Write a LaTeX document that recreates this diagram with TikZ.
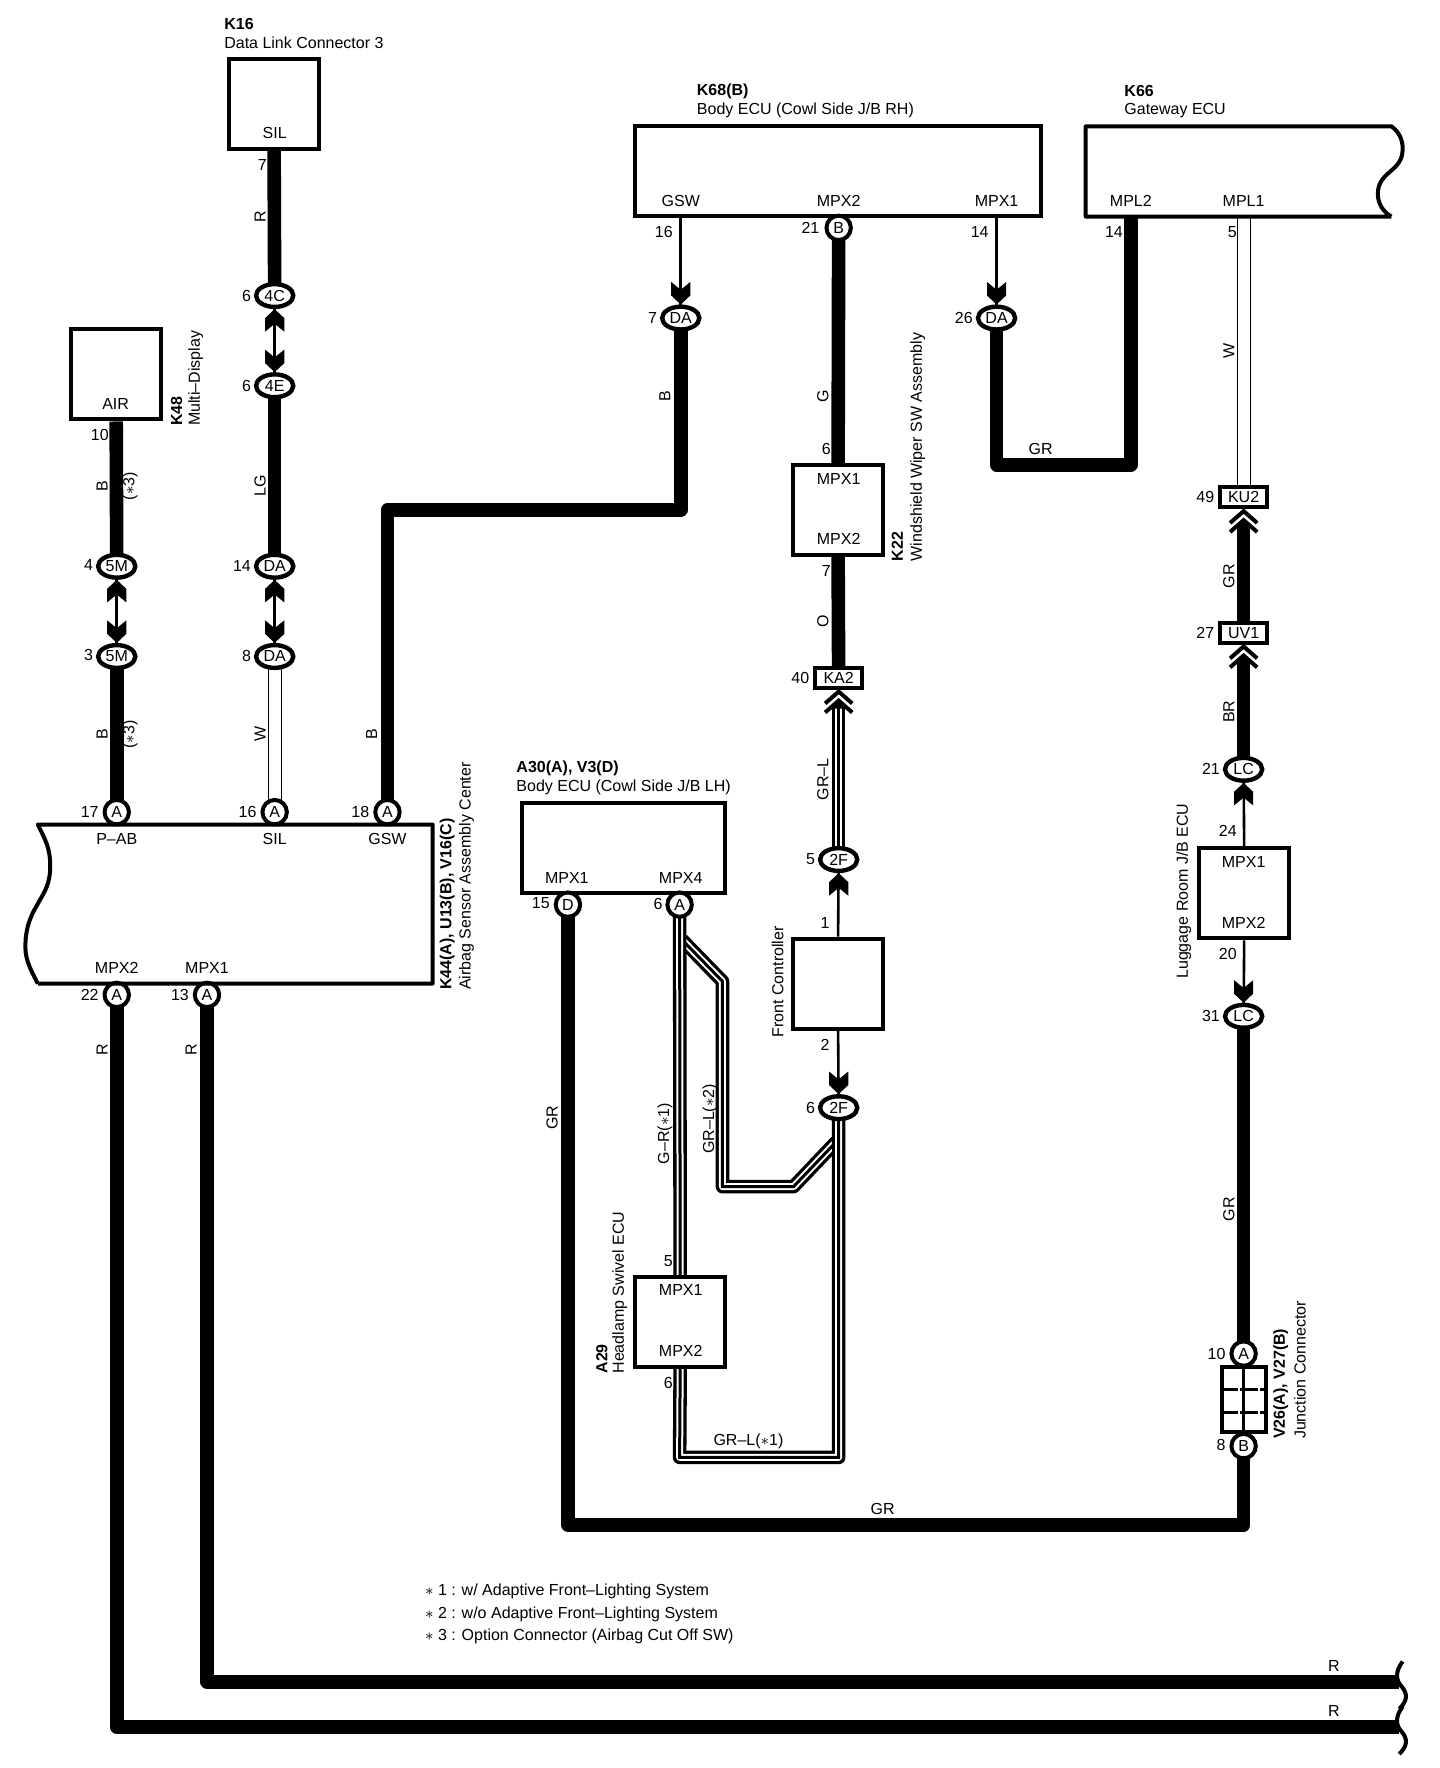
\documentclass[tikz,border=0pt]{standalone}
\usepackage{fontspec}
\setmainfont{Liberation Sans}
\usetikzlibrary{shapes.geometric,backgrounds}
\tikzset{
  lbl/.style={font=\fontsize{8}{9.5}\selectfont,inner sep=0pt,text=black},
  lblb/.style={lbl,font=\fontsize{8}{9.5}\selectfont\bfseries},
  tag/.style={lbl,anchor=west},
  tagb/.style={lblb,anchor=west},
  vtag/.style={lbl,rotate=90,anchor=west},
  vtagb/.style={lblb,rotate=90,anchor=west},
  vlbl/.style={lbl,rotate=90},
  modbox/.style={draw=black,fill=white,line width=2pt,minimum width=45pt,minimum height=45pt,inner sep=0pt},
  oval/.style={ellipse,draw=black,fill=white,line width=2.2pt,minimum width=18.6pt,minimum height=11.4pt,inner sep=0pt,font=\fontsize{8}{9.5}\selectfont},
  pinc/.style={circle,draw=black,fill=white,line width=2pt,minimum size=12.2pt,inner sep=0pt,font=\fontsize{8}{9.5}\selectfont},
  rectc/.style={rectangle,draw=black,fill=white,line width=2pt,minimum width=23.6pt,minimum height=10pt,inner sep=0pt,font=\fontsize{8}{9.5}\selectfont},
  outline/.style={draw=black,line width=2pt,line join=round},
  thickwire/.style={draw=black,line width=6.8pt,line join=round},
  thinlink/.style={draw=black,line width=1.3pt},
  whitewire/.style={draw=black,line width=.5pt,double=white,double distance=6pt},
  stripewire/.style={line width=1.5pt,draw=black,
    preaction={draw=black,line width=6.8pt,line join=round},
    preaction={draw=white,line width=3.5pt,line join=round}},
  headup/.pic={\fill[black] (0,0)--(8.5,8)--(8.5,20)--(0,13)--(-8.5,20)--(-8.5,8)--cycle;},
  headdown/.pic={\fill[black] (0,0)--(8.5,-8)--(8.5,-20)--(0,-13)--(-8.5,-20)--(-8.5,-8)--cycle;},
  chevrons/.pic={
    \fill[white] (-7.5,0) rectangle (7.5,16);
    \draw[black,line width=2pt,line cap=butt] (-12,12)--(0,1.5)--(12,12);
    \draw[black,line width=2pt,line cap=butt] (-12,20)--(0,9.5)--(12,20);
    \fill[black] (0,11)--(6.5,16.5)--(-6.5,16.5)--cycle;
  },
}
\begin{document}
\begin{tikzpicture}[x=0.564pt,y=-0.564pt]
\useasboundingbox (-0.5,0) rectangle (1276.1,1567.4);
% ---- modules
\node[modbox] (K16) at (242.5,92) {};
\node[lbl] (K16sil) at (243,118) {SIL};
\node[tagb] (K16a) at (198,21) {K16};
\node[tag] (K16b) at (198,38) {Data Link Connector 3};

\node[modbox] (K48) at (102.5,332) {};
\node[lbl] (K48air) at (102,358) {AIR};
\node[vtagb] (K48a) at (156,378) {K48};
\node[vtag] (K48b) at (173,378) {Multi--Display};

\node[modbox,minimum width=203pt] (K68) at (742.5,152) {};
\node[tagb] (K68a) at (617,81) {K68(B)};
\node[tag] (K68b) at (617,98) {Body ECU (Cowl Side J/B RH)};
\node[lbl] (K68g) at (603,178) {GSW};
\node[lbl] (K68m2) at (743,178) {MPX2};
\node[lbl] (K68m1) at (883,178) {MPX1};

\node[tagb] (K66a) at (996,81) {K66};
\node[tag] (K66b) at (996,98) {Gateway ECU};
\node[lbl] (K66l2) at (1002,178) {MPL2};
\node[lbl] (K66l1) at (1102,178) {MPL1};

\node[modbox] (K22) at (742.5,452) {};
\node[lbl] (K22a) at (743,425) {MPX1};
\node[lbl] (K22b) at (743,478) {MPX2};
\node[vtagb] (K22c) at (795,498) {K22};
\node[vtag] (K22d) at (813,498) {Windshield Wiper SW Assembly};

\node[modbox] (FC) at (742.5,872) {};
\node[vtag] (FCl) at (689,920) {Front Controller};

\node[modbox,minimum width=101.6pt] (A30) at (552.5,752) {};
\node[tagb] (A30a) at (457,681) {A30(A), V3(D)};
\node[tag] (A30b) at (457,698) {Body ECU (Cowl Side J/B LH)};
\node[lbl] (A30m1) at (502,778) {MPX1};
\node[lbl] (A30m4) at (603,778) {MPX4};

\node[modbox] (A29) at (602.5,1172) {};
\node[lbl] (A29a) at (603,1144) {MPX1};
\node[lbl] (A29b) at (603,1198) {MPX2};
\node[vtagb] (A29c) at (533,1218) {A29};
\node[vtag] (A29d) at (549,1218) {Headlamp Swivel ECU};

\node[modbox] (LJB) at (1102.5,792) {};
\node[lbl] (LJBa) at (1102,764) {MPX1};
\node[lbl] (LJBb) at (1102,818) {MPX2};
\node[vtag] (LJBc) at (1049,868) {Luggage Room J/B ECU};

% K44 label group
\node[lbl] (K44a) at (103,744) {P--AB};
\node[lbl] (K44b) at (243,744) {SIL};
\node[lbl] (K44c) at (343,744) {GSW};
\node[lbl] (K44d) at (103,858) {MPX2};
\node[lbl] (K44e) at (183,858) {MPX1};
\node[vtagb] (K44f) at (396,878) {K44(A), U13(B), V16(C)};
\node[vtag] (K44g) at (413,878) {Airbag Sensor Assembly Center};

% ---- connectors
\node[oval] (c4C) at (243,262) {4C};
\node[oval] (c4E) at (243,342) {4E};
\node[oval] (cDA14) at (243,502) {DA};
\node[oval] (cDA8) at (243,582) {DA};
\node[oval] (c5Ma) at (103,502) {5M};
\node[oval] (c5Mb) at (103,582) {5M};
\node[pinc] (a17) at (103,720) {A};
\node[pinc] (a16) at (243,720) {A};
\node[pinc] (a18) at (343,720) {A};
\node[pinc] (a22) at (103,882) {A};
\node[pinc] (a13) at (183,882) {A};
\node[oval] (cDA7) at (603,282) {DA};
\node[pinc] (b21) at (743,202) {B};
\node[oval] (cDA26) at (883,282) {DA};
\node[rectc] (KA2) at (743,601) {KA2};
\node[oval] (c2Fa) at (743,762) {2F};
\node[oval] (c2Fb) at (743,982) {2F};
\node[pinc] (d15) at (503,802) {D};
\node[pinc] (a6) at (602,802) {A};
\node[rectc] (KU2) at (1102,441) {KU2};
\node[rectc] (UV1) at (1102,561) {UV1};
\node[oval] (LCa) at (1102,682) {LC};
\node[oval] (LCb) at (1102,901) {LC};
\node[pinc] (a10) at (1102,1200) {A};
\node[pinc] (b8) at (1102,1282) {B};
\node[modbox,minimum width=22pt,minimum height=32.4pt] (V26) at (1102,1241) {};
\node[vtagb] (V26a) at (1135,1276) {V26(A), V27(B)};
\node[vtag] (V26b) at (1152,1276) {Junction Connector};

% ---- pin numbers
\node[lbl] at (232,146) (p01) {7};
\node[lbl] at (218,262) (p02) {6};
\node[lbl] at (218,342) (p03) {6};
\node[lbl] at (214,502) (p04) {14};
\node[lbl] at (218,582) (p05) {8};
\node[lbl] at (219,720) (p06) {16};
\node[lbl] at (88,386) (p07) {10};
\node[lbl] at (78,501) (p08) {4};
\node[lbl] at (78,581) (p09) {3};
\node[lbl] at (79,720) (p10) {17};
\node[lbl] at (319,720) (p11) {18};
\node[lbl] at (578,282) (p12) {7};
\node[lbl] at (588,206) (p13) {16};
\node[lbl] at (718,202) (p14) {21};
\node[lbl] at (732,398) (p15) {6};
\node[lbl] at (732,506) (p16) {7};
\node[lbl] at (709,601) (p17) {40};
\node[lbl] at (718,762) (p18) {5};
\node[lbl] at (731,818) (p19) {1};
\node[lbl] at (731,926) (p20) {2};
\node[lbl] at (718,982) (p21) {6};
\node[lbl] at (592,1118) (p22) {5};
\node[lbl] at (592,1226) (p23) {6};
\node[lbl] at (479,801) (p24) {15};
\node[lbl] at (583,801) (p25) {6};
\node[lbl] at (1078,1200) (p26) {10};
\node[lbl] at (1082,1281) (p27) {8};
\node[lbl] at (1073,901) (p28) {31};
\node[lbl] at (1088,846) (p29) {20};
\node[lbl] at (1088,737) (p30) {24};
\node[lbl] at (1073,682) (p31) {21};
\node[lbl] at (1068,561) (p32) {27};
\node[lbl] at (1068,441) (p33) {49};
\node[lbl] at (1092,206) (p34) {5};
\node[lbl] at (987,206) (p35) {14};
\node[lbl] at (868,206) (p36) {14};
\node[lbl] at (854,282) (p37) {26};
\node[lbl] at (79,882) (p38) {22};
\node[lbl] at (159,882) (p39) {13};

% ---- wire colour labels
\node[vlbl] (w01) at (230,192) {R};
\node[vlbl] (w02) at (230,431) {LG};
\node[vlbl] (w03) at (230,651) {W};
\node[vlbl] (w04) at (90,431) {B};
\node[vlbl] (w05) at (115,431) {($\ast$3)};
\node[vlbl] (w06) at (90,651) {B};
\node[vlbl] (w07) at (115,651) {($\ast$3)};
\node[vlbl] (w08) at (329,651) {B};
\node[vlbl] (w09) at (589,351) {B};
\node[vlbl] (w10) at (729,351) {G};
\node[vlbl] (w11) at (729,551) {O};
\node[vlbl] (w12) at (729,691) {GR--L};
\node[vlbl] (w13) at (589,1005) {G--R($\ast$1)};
\node[vlbl] (w14) at (629,992) {GR--L($\ast$2)};
\node[lbl] (w15) at (663,1278) {GR--L($\ast$1)};
\node[vlbl] (w16) at (489,991) {GR};
\node[lbl] (w17) at (782,1338) {GR};
\node[vlbl] (w18) at (90,931) {R};
\node[vlbl] (w19) at (169,931) {R};
\node[lbl] (w20) at (922,398) {GR};
\node[vlbl] (w21) at (1089,311) {W};
\node[vlbl] (w22) at (1089,511) {GR};
\node[vlbl] (w23) at (1089,631) {BR};
\node[vlbl] (w24) at (1089,1072) {GR};
\node[lbl] (w25) at (1182,1477) {R};
\node[lbl] (w26) at (1182,1517) {R};

% ---- notes
\node[tag] (n1) at (376,1411) {$\ast$ 1 : w/ Adaptive Front--Lighting System};
\node[tag] (n2) at (376,1431) {$\ast$ 2 : w/o Adaptive Front--Lighting System};
\node[tag] (n3) at (376,1451) {$\ast$ 3 : Option Connector (Airbag Cut Off SW)};

% ---- named free points
\coordinate (g1) at (343,452);
\coordinate (g2) at (603,452);
\coordinate (gs) at (603,192);
\coordinate (ms) at (883,192);
\coordinate (l2) at (1002,192);
\coordinate (l2a) at (1002,412);
\coordinate (l2b) at (883,412);
\coordinate (l1) at (1102,192);
\coordinate (d1) at (503,1352);
\coordinate (d2) at (1102,1352);
\coordinate (r1) at (183,1491);
\coordinate (r1e) at (1240,1491);
\coordinate (r2) at (103,1531);
\coordinate (r2e) at (1240,1531);
\coordinate (f1) at (602,1292);
\coordinate (f2) at (743,1292);
\coordinate (h0) at (604,833);
\coordinate (h1) at (640,870);
\coordinate (h2) at (640,1052);
\coordinate (h3) at (703,1052);
\coordinate (h4) at (741,1012);

\begin{scope}[on background layer]
  \fill[white] (-0.5,0) rectangle (1276.1,1567.4);
  % thick wires
  \draw[thickwire] (K16.south) -- (c4C.center);
  \draw[thickwire] (c4E.center) -- (cDA14.center);
  \draw[thickwire] (K48.south) -- (c5Ma.center);
  \draw[thickwire] (c5Mb.center) -- (a17.center);
  \draw[thickwire] (a18.center) -- (g1) -- (g2) -- (cDA7.center);
  \draw[thickwire] (b21.center) -- (K22.north);
  \draw[thickwire] (K22.south) -- (KA2.center);
  \draw[thickwire] (l2) -- (l2a) -- (l2b) -- (cDA26.center);
  \draw[thickwire] (UV1.center) -- (LCa.center);
  \draw[thickwire] (KU2.center) -- (UV1.center);
  \draw[thickwire] (LCb.center) -- (a10.center);
  \draw[thickwire] (d15.center) -- (d1) -- (d2) -- (b8.center);
  \draw[thickwire] (a13.center) -- (r1) -- (r1e);
  \draw[thickwire] (a22.center) -- (r2) -- (r2e);
  % white wires
  \draw[whitewire] (cDA8.center) -- (a16.center);
  \draw[whitewire] (l1) -- (KU2.center);
  % striped wires
  \draw[stripewire] (KA2.center) -- (c2Fa.center);
  \draw[stripewire] (h0) -- (h1) -- (h2) -- (h3) -- (h4);
  \draw[stripewire] (a6.center) -- (A29.north);
  \draw[stripewire] (A29.south) -- (f1) -- (f2) -- (c2Fb.center);
  % thin links
  \draw[thinlink] (c4C.center) -- (c4E.center);
  \draw[thinlink] (cDA14.center) -- (cDA8.center);
  \draw[thinlink] (c5Ma.center) -- (c5Mb.center);
  \draw[thinlink] (gs) -- (cDA7.center);
  \draw[thinlink] (ms) -- (cDA26.center);
  \draw[thinlink] (FC.north) -- (c2Fa.center);
  \draw[thinlink] (FC.south) -- (c2Fb.center);
  \draw[thinlink] (LJB.north) -- (LCa.center);
  \draw[thinlink] (LJB.south) -- (LCb.center);
\end{scope}

% K44 open box, K66 open box
\draw[outline] (33,872) -- (383,872) -- (383,731) -- (33,731)
  .. controls (40,745) and (44,752) .. (44,768)
  .. controls (44,785) and (38,792) .. (32,803)
  .. controls (25,815) and (22,825) .. (22,840)
  .. controls (22,852) and (28,862) .. (33,872);
\draw[outline] (1233,192) -- (962,192) -- (962,112) -- (1233,112)
  .. controls (1240,117) and (1243,124) .. (1243,132)
  .. controls (1243,142) and (1238,147) .. (1232,152)
  .. controls (1225,158) and (1221,163) .. (1221,172)
  .. controls (1221,181) and (1226,188) .. (1233,192);
% squiggles
\draw[black,line width=2pt] (1243,1473) .. controls (1236,1482) and (1237,1490) .. (1242,1495) .. controls (1248,1502) and (1247,1508) .. (1240,1515);
\draw[black,line width=2pt] (1243,1513) .. controls (1236,1522) and (1237,1530) .. (1242,1535) .. controls (1248,1542) and (1247,1548) .. (1240,1555);

% V26 grid
\draw[black,line width=1.6pt] (V26.north) -- (V26.south);
\draw[black,line width=1.6pt,dash pattern=on 9pt off 1pt] (V26.west |- 0,1232) -- (V26.east |- 0,1232);
\draw[black,line width=1.6pt,dash pattern=on 9pt off 1pt] (V26.west |- 0,1252) -- (V26.east |- 0,1252);

% arrowheads
\pic at (c4C.south) {headup};
\pic at (c4E.north) {headdown};
\pic at (cDA14.south) {headup};
\pic at (cDA8.north) {headdown};
\pic at (c5Ma.south) {headup};
\pic at (c5Mb.north) {headdown};
\pic at (cDA7.north) {headdown};
\pic at (cDA26.north) {headdown};
\pic at (c2Fa.south) {headup};
\pic at (c2Fb.north) {headdown};
\pic at (LCa.south) {headup};
\pic at (LCb.north) {headdown};
\pic at (KA2.south) {chevrons};
\pic at (KU2.south) {chevrons};
\pic at (UV1.south) {chevrons};
\end{tikzpicture}
\end{document}
